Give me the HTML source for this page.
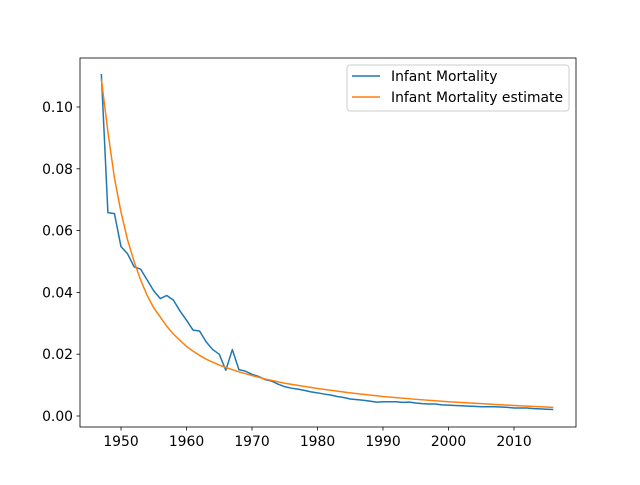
<!DOCTYPE html>
<html><head><meta charset="utf-8"><style>
body{margin:0;background:#fff;font-family:"Liberation Sans","DejaVu Sans",sans-serif}
svg text{font-family:"DejaVu Sans","Liberation Sans",sans-serif;font-size:13.9px;fill:#000}
</style></head><body>
<svg id="chart" width="640" height="480"></svg>
<script>
const blueYears=[1947,1948,1949,1950,1951,1952,1953,1954,1955,1956,1957,1958,1959,1960,1961,1962,1963,1964,1965,1966,1967,1968,1969,1970,1971,1972,1973,1974,1975,1976,1977,1978,1979,1980,1981,1982,1983,1984,1985,1986,1987,1988,1989,1990,1991,1992,1993,1994,1995,1996,1997,1998,1999,2000,2001,2002,2003,2004,2005,2006,2007,2008,2009,2010,2011,2012,2013,2014,2015,2016];
const blueValues=[0.1107,0.0658,0.0655,0.0548,0.0525,0.0483,0.0475,0.044,0.0405,0.038,0.039,0.0375,0.034,0.031,0.0278,0.0275,0.024,0.0215,0.020,0.0148,0.0215,0.015,0.0145,0.0135,0.0128,0.0118,0.0113,0.0103,0.0095,0.009,0.0087,0.0083,0.0078,0.0075,0.0071,0.0068,0.0063,0.006,0.0055,0.0053,0.0051,0.0048,0.0045,0.0046,0.0046,0.0046,0.0044,0.0045,0.0042,0.004,0.0039,0.0039,0.0036,0.0035,0.0034,0.0033,0.0032,0.0031,0.003,0.003,0.003,0.0029,0.0028,0.0026,0.0026,0.0026,0.0024,0.0023,0.0022,0.0021];
const orangeYears=[1947,1948,1949,1950,1951,1952,1953,1954,1955,1956,1957,1958,1959,1960,1961,1962,1963,1964,1965,1966,1967,1968,1969,1970,1972,1975,1980,1985,1990,1995,2000,2005,2010,2016];
const orangeValues=[0.109,0.092,0.077,0.066,0.057,0.050,0.044,0.039,0.035,0.032,0.029,0.0265,0.0245,0.0225,0.021,0.0196,0.0184,0.0174,0.0165,0.0157,0.015,0.0143,0.0137,0.0131,0.012,0.0106,0.0089,0.0075,0.0063,0.0054,0.0046,0.0040,0.0034,0.0028];
const xTicks=[1950,1960,1970,1980,1990,2000,2010];
const yTicks=[0,0.02,0.04,0.06,0.08,0.10];
const yTickLabels=["0.00","0.02","0.04","0.06","0.08","0.10"];
const L=80,R=576,T=58,B=427;
const xs=y=>121+(y-1950)*6.55;
const ys=v=>416-v*3090;
const svg=document.getElementById('chart');
const NS='http://www.w3.org/2000/svg';
function mk(t,a,p){const e=document.createElementNS(NS,t);for(const k in a)e.setAttribute(k,a[k]);(p||svg).appendChild(e);return e;}
let e=mk('rect',{x:L,y:T,width:R-L,height:B-T,fill:'none',stroke:'#000','stroke-width':0.8});


xTicks.forEach(t=>{const x=xs(t);
 let l=mk('line',{x1:x,x2:x,y1:B,y2:B+3.5,stroke:'#000','stroke-width':0.8});
 
 
 let tx=mk('text',{x:x,y:B+19,'text-anchor':'middle'});tx.textContent=t;
 
 });
yTicks.forEach((t,i)=>{const y=ys(t);
 let l=mk('line',{x1:L-3.5,x2:L,y1:y,y2:y,stroke:'#000','stroke-width':0.8});
 
 
 let tx=mk('text',{x:L-7,y:y+5,'text-anchor':'end'});tx.textContent=yTickLabels[i];
 
 });
function line(xa,va,c,name){let p=mk('polyline',{points:xa.map((y,i)=>xs(y)+','+ys(va[i])).join(' '),fill:'none',stroke:c,'stroke-width':1.5,'stroke-linejoin':'round'});
 
 }
line(blueYears,blueValues,'#1f77b4','infant-mortality-line');
line(orangeYears,orangeValues,'#ff7f0e','infant-mortality-estimate-line');
const g=mk('g',{});


mk('rect',{x:347,y:65,width:222,height:46,rx:3,fill:'#fff',stroke:'#ccc','stroke-width':1},g);
[['Infant Mortality','#1f77b4',76],['Infant Mortality estimate','#ff7f0e',97]].forEach(([t,c,y])=>{
 let l=mk('line',{x1:352,x2:380,y1:y,y2:y,stroke:c,'stroke-width':1.5},g);
 
 
 let tx=mk('text',{x:391,y:y+5},g);tx.textContent=t;
 
 });
</script>
</body></html>
